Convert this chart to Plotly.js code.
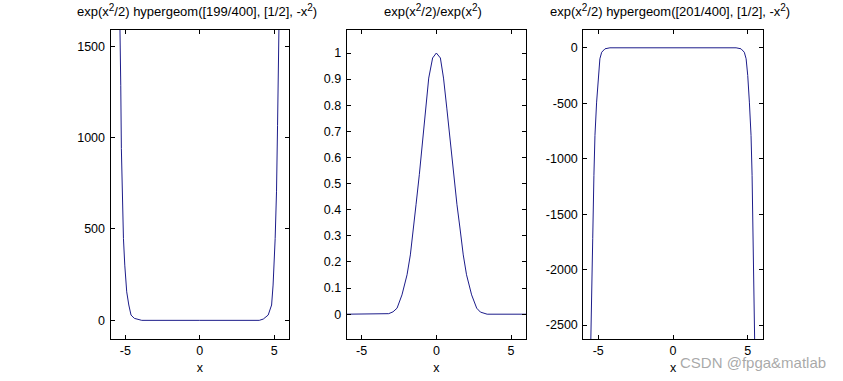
<!DOCTYPE html>
<html>
<head>
<meta charset="utf-8">
<script src="https://cdn.plot.ly/plotly-3.0.1.min.js"></script>
<style>html,body{margin:0;padding:0;background:#fff;}#chart{width:843px;height:381px;}</style>
</head>
<body>
<div id="chart"></div>
<script>
// Panel 1: exp(x^2/2) hypergeom([199/400],[1/2],-x^2)
const p1x = [-5.40, -5.35, -5.31, -5.27, -5.22, -5.13, -5.04, -4.91, -4.77, -4.62, -4.40, -4.07, -3.90, 0, 4.00, 4.27, 4.60, 4.83, 4.93, 5.07, 5.16, 5.23, 5.31, 5.36];
const p1y = [1800, 1591, 1286, 940, 721, 448, 302, 156, 84, 29, 11, 2, 0, 0, 0, 7, 29, 84, 193, 448, 703, 1067, 1591, 1800];
// Panel 2: exp(x^2/2)/exp(x^2)
const p2x = [-6, -3.4, -3.19, -2.90, -2.63, -2.30, -1.96, -1.74, -1.52, -1.36, -1.14, -0.92, -0.74, -0.51, -0.25, 0, 0.27, 0.48, 0.70, 0.90, 1.13, 1.38, 1.58, 1.80, 2.02, 2.36, 2.70, 2.95, 3.4, 6];
const p2y = [0, 0, 0.002, 0.009, 0.023, 0.074, 0.151, 0.227, 0.330, 0.419, 0.534, 0.674, 0.789, 0.904, 0.981, 1, 0.981, 0.904, 0.789, 0.674, 0.534, 0.419, 0.330, 0.227, 0.151, 0.074, 0.023, 0.008, 0, 0];
// Panel 3: exp(x^2/2) hypergeom([201/400],[1/2],-x^2)
const p3x = [-5.52, -5.49, -5.42, -5.37, -5.29, -5.22, -5.11, -5.00, -4.89, -4.77, -4.55, -4.22, 0, 4.22, 4.55, 4.77, 4.89, 5.00, 5.11, 5.22, 5.29, 5.36, 5.41, 5.45, 5.48];
const p3y = [-2800, -2500, -2142, -1721, -1150, -790, -490, -250, -99, -40, -9, 0, 0, 0, -9, -40, -99, -250, -490, -790, -1150, -1721, -2142, -2500, -2800];

const sq = '<sup><span style="font-size:10px">2</span></sup>';
const titles = [
  "exp(x" + sq + "/2) hypergeom([199/400], [1/2], -x" + sq + ")",
  "exp(x" + sq + "/2)/exp(x" + sq + ")",
  "exp(x" + sq + "/2) hypergeom([201/400], [1/2], -x" + sq + ")"
];
const xTicks = [-5, 0, 5];
const y1Ticks = [0, 500, 1000, 1500];
const y2Ticks = [0, 0.1, 0.2, 0.3, 0.4, 0.5, 0.6, 0.7, 0.8, 0.9, 1];
const y2Labels = ["0", "0.1", "0.2", "0.3", "0.4", "0.5", "0.6", "0.7", "0.8", "0.9", "1"];
const y3Ticks = [-2500, -2000, -1500, -1000, -500, 0];

const W = 843, H = 381;
const lineColor = "#1c1c8a";
const fam = "Liberation Sans, Arial, sans-serif";
const font = {family: fam, size: 12.5, color: "#000"};
const tfont = {family: fam, size: 13, color: "#000"};

const ydom = [(H - 339) / H, (H - 29.5) / H];
const xdoms = [[110.5 / W, 289 / W], [346.7 / W, 526 / W], [583.3 / W, 762.7 / W]];

function xax(dom, anchor) {
  return {domain: dom, anchor: anchor, range: [-6, 6], tickvals: xTicks, ticktext: xTicks.map(String),
    ticks: "inside", ticklen: 4, tickcolor: "#000", mirror: "ticks", showline: true, linecolor: "#000",
    linewidth: 1, showgrid: false, zeroline: false, tickfont: font,
    title: {text: "x", font: font, standoff: 6}};
}
function yax(range, vals, text, anchor) {
  return {domain: ydom, anchor: anchor, range: range, tickvals: vals, ticktext: text,
    ticks: "inside", ticklen: 4, tickcolor: "#000", mirror: "ticks", showline: true, linecolor: "#000",
    linewidth: 1, showgrid: false, zeroline: false, tickfont: font, ticklabelstandoff: 2};
}

const traces = [
  {x: p1x, y: p1y, xaxis: "x", yaxis: "y", mode: "lines", line: {color: lineColor, width: 1}, hoverinfo: "skip"},
  {x: p2x, y: p2y, xaxis: "x2", yaxis: "y2", mode: "lines", line: {color: lineColor, width: 1}, hoverinfo: "skip"},
  {x: p3x, y: p3y, xaxis: "x3", yaxis: "y3", mode: "lines", line: {color: lineColor, width: 1}, hoverinfo: "skip"}
];

const annotations = titles.map((t, i) => ({
  text: t, xref: "paper", yref: "paper",
  x: (xdoms[i][0] + xdoms[i][1]) / 2 - 3 / W, y: (H - 21) / H,
  xanchor: "center", yanchor: "bottom", showarrow: false, font: tfont
}));
annotations.push({text: "CSDN @fpga&matlab", xref: "paper", yref: "paper",
  x: 828 / W, y: (H - 362) / H, xanchor: "right", yanchor: "middle", showarrow: false,
  font: {family: fam, size: 15, color: "rgba(140,140,140,0.75)"}});

const layout = {
  width: W, height: H, margin: {l: 0, r: 0, t: 0, b: 0},
  paper_bgcolor: "#fff", plot_bgcolor: "#fff", showlegend: false, font: font,
  xaxis: xax(xdoms[0], "y"),
  yaxis: yax([-102, 1591], y1Ticks, y1Ticks.map(String), "x"),
  xaxis2: xax(xdoms[1], "y2"),
  yaxis2: yax([-0.095, 1.09], y2Ticks, y2Labels, "x2"),
  xaxis3: xax(xdoms[2], "y3"),
  yaxis3: yax([-2626, 165], y3Ticks, y3Ticks.map(String), "x3"),
  annotations: annotations
};

Plotly.newPlot("chart", traces, layout, {displayModeBar: false, staticPlot: true});
</script>
</body>
</html>
